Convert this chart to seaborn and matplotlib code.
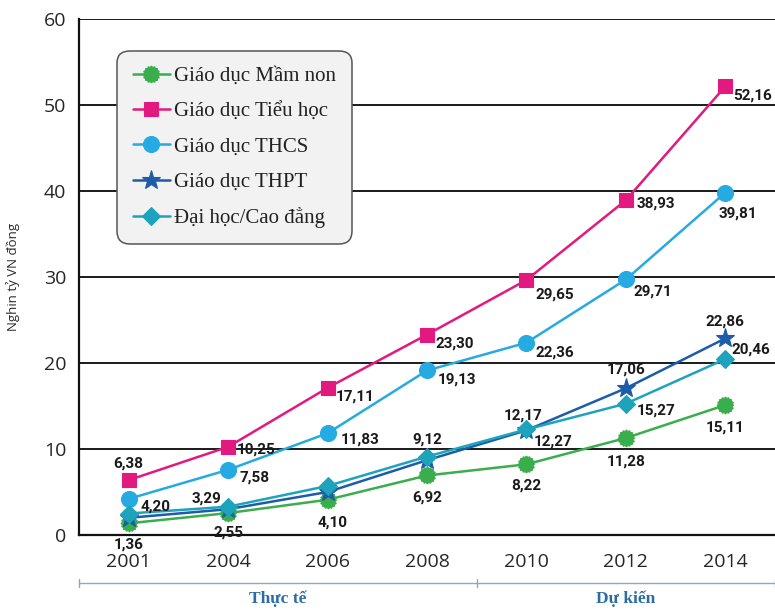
import numpy as np
import matplotlib
matplotlib.use("Agg")
import matplotlib.pyplot as plt
from matplotlib.path import Path
from matplotlib.transforms import blended_transform_factory
import seaborn as sns

# ---- data -------------------------------------------------------------
years = ["2001", "2004", "2006", "2008", "2010", "2012", "2014"]
series_names = ["Giáo dục Mầm non", "Giáo dục Tiểu học", "Giáo dục THCS",
                "Giáo dục THPT", "Đại học/Cao đẳng"]
mam_non = [1.36, 2.55, 4.10, 6.92, 8.22, 11.28, 15.11]
tieu_hoc = [6.38, 10.25, 17.11, 23.30, 29.65, 38.93, 52.16]
thcs = [4.20, 7.58, 11.83, 19.13, 22.36, 29.71, 39.81]
thpt = [2.0, 3.0, 5.0, 8.7, 12.17, 17.06, 22.86]
dai_hoc = [2.5, 3.29, 5.7, 9.12, 12.27, 15.27, 20.46]
period_labels = ["Thực tế", "Dự kiến"]
y_ticks = [0, 10, 20, 30, 40, 50, 60]
y_label = "Nghin tỷ VN đồng"

# ---- styling ----------------------------------------------------------
sns.set_style("white")
plt.rcParams["font.family"] = ["Open Sans", "DejaVu Sans"]

colors = ["#3aae4c", "#e2197e", "#25aae2", "#1d5ca8", "#1ea3bc"]

# rounded "badge" marker for the green series
_n = 32
_ang = np.linspace(0, 2 * np.pi, _n, endpoint=False)
_rad = np.where(np.arange(_n) % 2 == 0, 1.0, 0.86)
badge = Path(np.column_stack([_rad * np.cos(_ang), _rad * np.sin(_ang)]))

markers = [badge, "s", "o", "*", "D"]
marker_sizes = [12, 9.5, 11.5, 14, 9.5]

# label offsets in pixels (dx, dy); None = no value label at that point
label_offsets = [
    [(0, -21), (0, -19), (5, -23), (0, -22), (0, -21), (0, -24), (0, -23)],
    [(0, 17), (28, -3), (27, -9), (28, -9), (28, -15), (30, -3), (27, -9)],
    [(27, -8), (26, -8), (32, -6), (30, -9), (28, -10), (27, -12), (13, -21)],
    [None, None, None, None, (-3, 15), (0, 19), (0, 17)],
    [None, (-22, 8), None, (0, 17), (27, -12), (30, -7), (26, 9)],
]

all_values = [mam_non, tieu_hoc, thcs, thpt, dai_hoc]

fig = plt.figure(figsize=(7.75, 6.1), dpi=100)
ax = fig.add_axes([79 / 775, 75 / 610, 696 / 775, 516 / 610])

for name, vals, c, m, ms in zip(series_names, all_values, colors, markers, marker_sizes):
    sns.lineplot(x=years, y=vals, ax=ax, color=c, marker=m, markersize=ms,
                 markeredgecolor=c, markeredgewidth=0.8, linewidth=1.8,
                 label=name, sort=False, zorder=3)

# value labels
label_font = dict(family="Roboto", weight="bold", size=11, color="#1a1a1a")
for vals, offs in zip(all_values, label_offsets):
    for i, (v, off) in enumerate(zip(vals, offs)):
        if off is None:
            continue
        ax.annotate(f"{v:.2f}".replace(".", ","), xy=(i, v), xytext=off,
                    textcoords="offset pixels", ha="center", va="center",
                    zorder=5, **label_font)

# axes
ax.set_xlim(-0.5, 6.5)
ax.set_ylim(0, 60)
ax.set_yticks(y_ticks)
ax.set_xticks(range(len(years)))
ax.set_xticklabels(years)
ax.set_xticks(np.arange(-0.5, len(years)), minor=True)
ax.yaxis.grid(True, color="#1a1a1a", linewidth=1.4)
ax.xaxis.grid(False)
ax.set_axisbelow(True)
for side in ["top", "right"]:
    ax.spines[side].set_visible(False)
for side in ["left", "bottom"]:
    ax.spines[side].set_color("#111111")
    ax.spines[side].set_linewidth(1.6)

ax.tick_params(axis="y", direction="out", length=6, width=1.4, color="#111111",
               labelsize=14, labelcolor="#262626", pad=3)
ax.tick_params(axis="x", which="major", length=0, labelsize=14,
               labelcolor="#262626", pad=13)
ax.tick_params(axis="x", which="minor", direction="out", length=6, width=1.4,
               color="#111111")

ax.set_xlabel("")
ax.set_ylabel(y_label, fontsize=9.5, color="#2a2a2a")
ax.yaxis.set_label_coords(-0.085, 0.5)

# period bracket under the x axis
trans = blended_transform_factory(ax.transData, ax.transAxes)
br_y = -0.093
br_col = "#97a5b8"
ax.plot([-0.5, 6.5], [br_y, br_y], transform=trans, color=br_col, lw=1.0,
        clip_on=False)
for xb in [-0.5, 3.5, 6.5]:
    ax.plot([xb, xb], [br_y - 0.008, br_y + 0.008], transform=trans,
            color=br_col, lw=1.0, clip_on=False)
for xc, txt in zip([1.5, 5.0], period_labels):
    ax.text(xc, -0.124, txt, transform=trans, ha="center", va="center",
            family="Liberation Serif", weight="bold", size=12.5,
            color="#2b6ca5")

# legend
handles, labels = ax.get_legend_handles_labels()
leg = ax.legend(handles, labels, loc="upper left",
                bbox_to_anchor=(0.0546, 0.938), borderaxespad=0,
                prop={"family": "Liberation Serif", "size": 15},
                frameon=True, fancybox=True, facecolor="#f2f2f2",
                edgecolor="#555555", framealpha=1, handlelength=1.8,
                handletextpad=0.2, labelspacing=0.75, borderpad=0.75,
                numpoints=1)
leg.get_frame().set_linewidth(1.1)
leg.get_frame().set_boxstyle("round,pad=0,rounding_size=0.6")
for t in leg.get_texts():
    t.set_color("#222222")

fig.savefig("out.png", dpi=100)
